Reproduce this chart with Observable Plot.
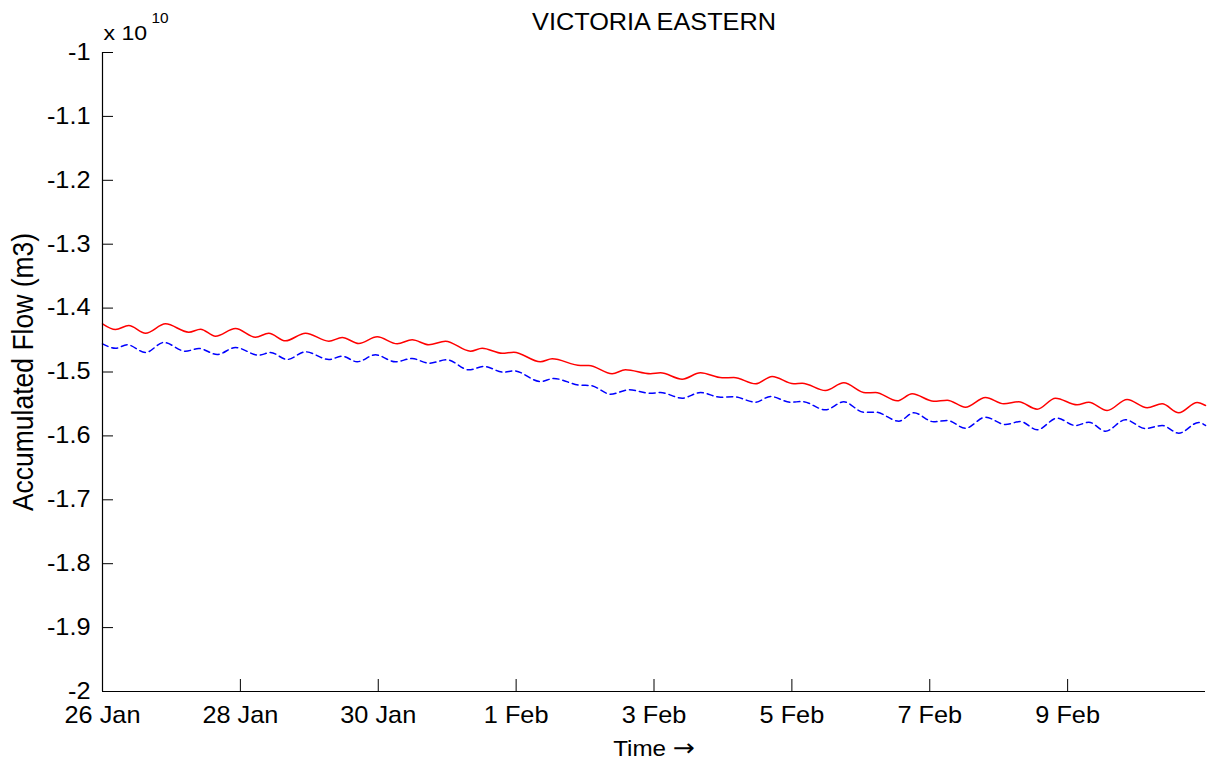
<!DOCTYPE html>
<html>
<head>
<meta charset="utf-8">
<script src="https://cdn.jsdelivr.net/npm/d3@7"></script>
<script src="https://cdn.jsdelivr.net/npm/@observablehq/plot@0.6"></script>
<style>
html, body { margin: 0; padding: 0; background: #fff; }
</style>
</head>
<body>
<div id="chart"></div>
<script>
// ---- text ----
const chartTitle = "VICTORIA EASTERN";
const yLabel = "Accumulated Flow (m3)";
const xLabel = "Time \u2192";
const exponentBase = "x 10";
const exponentPower = "10";

// ---- axes (values in units of 1e10 m3) ----
const startDate = "2009-01-26";
const endDay = 16;
const xTickDays = [0, 2, 4, 6, 8, 10, 12, 14];
const yTicks = [-1, -1.1, -1.2, -1.3, -1.4, -1.5, -1.6, -1.7, -1.8, -1.9, -2];
const yDomain = [-2, -1];

// ---- series: days since 26 Jan, accumulated flow (x 1e10 m3) ----
const redDays = [0, 0.189, 0.381, 0.624, 0.914, 1.252, 1.422, 1.639, 1.929, 2.219, 2.412, 2.654, 2.945, 3.283, 3.477, 3.718, 3.985, 4.275, 4.492, 4.733, 4.975, 5.338, 5.508, 5.798, 5.966, 6.353, 6.523, 6.934, 7.054, 7.393, 7.586, 7.949, 8.094, 8.409, 8.674, 8.989, 9.157, 9.472, 9.714, 10.028, 10.149, 10.487, 10.753, 11.068, 11.213, 11.528, 11.745, 12.058, 12.253, 12.518, 12.808, 13.074, 13.291, 13.558, 13.824, 14.138, 14.307, 14.573, 14.863, 15.154, 15.371, 15.612, 15.879, 16.0];
const redValues = [-1.4246, -1.4335, -1.4272, -1.4393, -1.4246, -1.4377, -1.4330, -1.4440, -1.4319, -1.4455, -1.4393, -1.4512, -1.4393, -1.4518, -1.4460, -1.4554, -1.4449, -1.4559, -1.4496, -1.4574, -1.4518, -1.4675, -1.4628, -1.4706, -1.4690, -1.4840, -1.4793, -1.4898, -1.4898, -1.5028, -1.4966, -1.5028, -1.5013, -1.5113, -1.5013, -1.5091, -1.5086, -1.5185, -1.5070, -1.5185, -1.5175, -1.5290, -1.5169, -1.5325, -1.5321, -1.5451, -1.5341, -1.5457, -1.5441, -1.5551, -1.5399, -1.5498, -1.5466, -1.5582, -1.5410, -1.5513, -1.5473, -1.5603, -1.5430, -1.5560, -1.5498, -1.5638, -1.5477, -1.5524];

const blueDays = [0, 0.189, 0.358, 0.624, 0.889, 1.204, 1.397, 1.664, 1.929, 2.267, 2.437, 2.679, 2.945, 3.283, 3.477, 3.694, 3.960, 4.250, 4.492, 4.733, 5.000, 5.313, 5.531, 5.821, 5.966, 6.353, 6.546, 6.934, 7.079, 7.369, 7.634, 7.949, 8.094, 8.409, 8.674, 8.964, 9.157, 9.472, 9.690, 9.980, 10.149, 10.487, 10.753, 11.043, 11.213, 11.551, 11.768, 12.058, 12.253, 12.518, 12.808, 13.098, 13.316, 13.558, 13.848, 14.114, 14.307, 14.549, 14.839, 15.129, 15.371, 15.612, 15.902, 16.0];
const blueValues = [-1.4559, -1.4628, -1.4574, -1.4695, -1.4538, -1.4675, -1.4632, -1.4726, -1.4617, -1.4737, -1.4695, -1.4804, -1.4684, -1.4804, -1.4753, -1.4840, -1.4731, -1.4840, -1.4789, -1.4862, -1.4809, -1.4966, -1.4914, -1.5003, -1.4981, -1.5149, -1.5102, -1.5207, -1.5211, -1.5347, -1.5279, -1.5332, -1.5321, -1.5410, -1.5321, -1.5394, -1.5388, -1.5473, -1.5383, -1.5473, -1.5462, -1.5592, -1.5466, -1.5629, -1.5629, -1.5770, -1.5638, -1.5779, -1.5759, -1.5880, -1.5707, -1.5822, -1.5775, -1.5905, -1.5723, -1.5837, -1.5786, -1.5926, -1.5748, -1.5884, -1.5837, -1.5958, -1.5790, -1.5837];

// ---- build ----
const t0 = Date.parse(startDate + "T00:00:00Z");
const toDate = d => new Date(t0 + d * 864e5);
const redData = redDays.map((d, i) => ({date: toDate(d), value: redValues[i]}));
const blueData = blueDays.map((d, i) => ({date: toDate(d), value: blueValues[i]}));
const xTicks = xTickDays.map(toDate);

const W = 1207, H = 762;
const mTop = 52, mBottom = 71, mLeft = 102, mRight = 2;
const plotW = W - mLeft - mRight, plotH = H - mTop - mBottom;
const fontFamily = "'Liberation Sans', Arial, Helvetica, sans-serif";

const chart = Plot.plot({
  width: W,
  height: H,
  marginTop: mTop,
  marginBottom: mBottom,
  marginLeft: mLeft,
  marginRight: mRight,
  style: {fontFamily, fontSize: "23px", color: "#000", background: "#fff", overflow: "visible"},
  x: {type: "utc", domain: [toDate(0), toDate(endDay)]},
  y: {domain: yDomain},
  marks: [
    Plot.line(redData, {x: "date", y: "value", stroke: "#ff0000", strokeWidth: 1.5, curve: "monotone-x"}),
    Plot.line(blueData, {x: "date", y: "value", stroke: "#0000ff", strokeWidth: 1.5, strokeDasharray: "6,4", curve: "monotone-x"}),
    Plot.ruleX([toDate(0)], {stroke: "#000", strokeWidth: 1.2}),
    Plot.ruleY([yDomain[0]], {stroke: "#000", strokeWidth: 1.2}),
    Plot.tickY(yTicks, {y: d => d, stroke: "#000", insetRight: plotW - 11}),
    Plot.tickX(xTicks, {x: d => d, stroke: "#000", insetTop: plotH - 12}),
    Plot.axisY(yTicks, {tickSize: 0, tickPadding: 12, label: null, fontSize: 23,
      tickFormat: d => String(+d.toFixed(1))}),
    Plot.axisX(xTicks, {tickSize: 0, tickPadding: 15, label: null, fontSize: 23,
      tickFormat: d3.utcFormat("%-d %b")}),
    Plot.text([chartTitle], {text: d => d, frameAnchor: "top", lineAnchor: "bottom", dy: -23, fontSize: 23}),
    Plot.text([exponentBase], {text: d => d, frameAnchor: "top-left", textAnchor: "start", lineAnchor: "bottom", dx: 1, dy: -13, fontSize: 21}),
    Plot.text([exponentPower], {text: d => d, frameAnchor: "top-left", textAnchor: "start", lineAnchor: "bottom", dx: 49, dy: -30, fontSize: 14}),
    Plot.text([xLabel], {text: d => d, frameAnchor: "bottom", textAnchor: "middle", lineAnchor: "bottom", dy: 64, fontSize: 22}),
    Plot.text([yLabel], {text: d => d, frameAnchor: "left", textAnchor: "middle", lineAnchor: "bottom", rotate: -90, dx: -70, fontSize: 26.5})
  ]
});

// horizontal stretch of the lettering, as in the reference image
const stretch = 1.1;
chart.querySelectorAll("text").forEach(el => {
  const tr = el.getAttribute("transform") || "";
  const x = parseFloat(el.getAttribute("x")) || 0;
  if (/rotate\(-?90/.test(tr)) {
    el.setAttribute("transform", tr + ` scale(1,${stretch})`);
  } else {
    el.setAttribute("transform", tr + ` translate(${x},0) scale(${stretch},1) translate(${-x},0)`);
  }
  // draw the arrow of the x label with a font that has a long arrow glyph
  if (el.textContent === xLabel) {
    const parts = xLabel.split("\u2192");
    el.textContent = parts[0];
    const ts = document.createElementNS("http://www.w3.org/2000/svg", "tspan");
    ts.setAttribute("font-family", "'DejaVu Sans', sans-serif");
    ts.setAttribute("font-size", "24");
    ts.textContent = "\u2192";
    el.appendChild(ts);
  }
});

document.getElementById("chart").appendChild(chart);
</script>
</body>
</html>
